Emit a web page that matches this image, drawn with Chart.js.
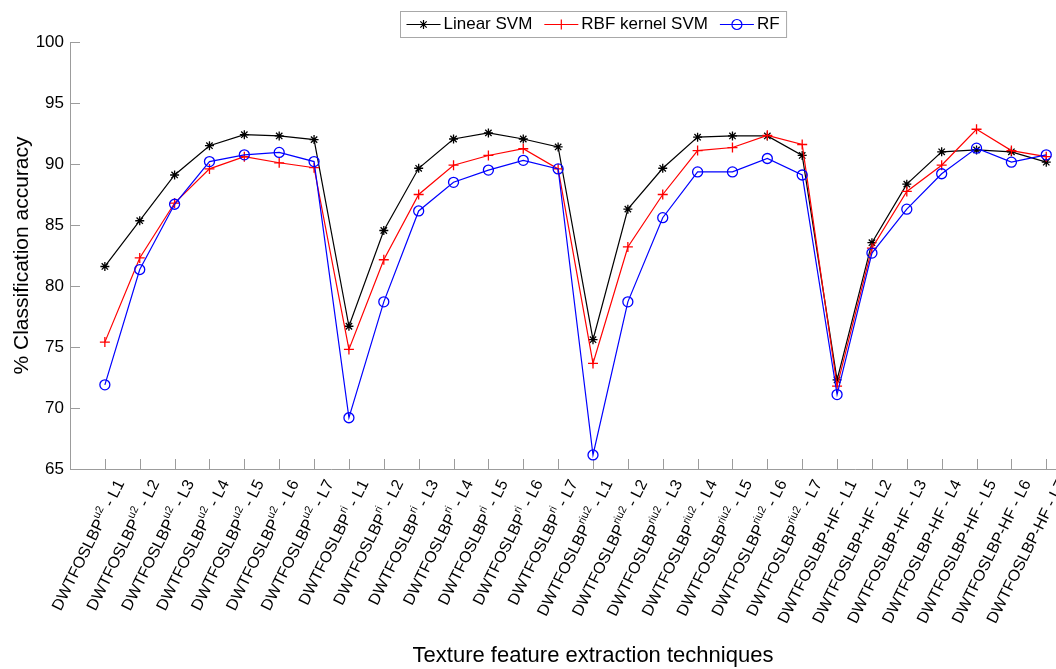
<!DOCTYPE html>
<html>
<head>
<meta charset="utf-8">
<script src="https://cdn.jsdelivr.net/npm/chart.js"></script>
<style>
  html, body { margin: 0; padding: 0; background: #fff; overflow: hidden; }
  #wrap { width: 1130px; height: 669px; }
</style>
</head>
<body>
<div id="wrap"><canvas id="chart" width="1130" height="669"></canvas></div>
<script>
// Feature extraction variants (superscripts written as ^{...})
const categories = [
  'DWTFOSLBP^{u2} - L1', 'DWTFOSLBP^{u2} - L2', 'DWTFOSLBP^{u2} - L3', 'DWTFOSLBP^{u2} - L4',
  'DWTFOSLBP^{u2} - L5', 'DWTFOSLBP^{u2} - L6', 'DWTFOSLBP^{u2} - L7',
  'DWTFOSLBP^{ri} - L1', 'DWTFOSLBP^{ri} - L2', 'DWTFOSLBP^{ri} - L3', 'DWTFOSLBP^{ri} - L4',
  'DWTFOSLBP^{ri} - L5', 'DWTFOSLBP^{ri} - L6', 'DWTFOSLBP^{ri} - L7',
  'DWTFOSLBP^{riu2} - L1', 'DWTFOSLBP^{riu2} - L2', 'DWTFOSLBP^{riu2} - L3', 'DWTFOSLBP^{riu2} - L4',
  'DWTFOSLBP^{riu2} - L5', 'DWTFOSLBP^{riu2} - L6', 'DWTFOSLBP^{riu2} - L7',
  'DWTFOSLBP-HF - L1', 'DWTFOSLBP-HF - L2', 'DWTFOSLBP-HF - L3', 'DWTFOSLBP-HF - L4',
  'DWTFOSLBP-HF - L5', 'DWTFOSLBP-HF - L6', 'DWTFOSLBP-HF - L7'
];

// % classification accuracy per classifier
const linearSVM = [81.6, 85.35, 89.1, 91.5, 92.4, 92.3, 92.0,
                   76.7, 84.55, 89.65, 92.05, 92.55, 92.05, 91.4,
                   75.6, 86.3, 89.65, 92.2, 92.3, 92.3, 90.7,
                   72.3, 83.55, 88.35, 91.0, 91.15, 91.0, 90.15];
const rbfSVM    = [75.4, 82.3, 86.8, 89.6, 90.6, 90.1, 89.7,
                   74.8, 82.15, 87.5, 89.9, 90.7, 91.25, 89.6,
                   73.65, 83.2, 87.5, 91.1, 91.35, 92.35, 91.6,
                   71.8, 83.1, 87.75, 89.9, 92.85, 91.1, 90.6];
const randomForest = [71.9, 81.35, 86.7, 90.2, 90.75, 90.95, 90.2,
                   69.2, 78.7, 86.15, 88.5, 89.5, 90.3, 89.6,
                   66.15, 78.7, 85.6, 89.35, 89.35, 90.45, 89.1,
                   71.1, 82.7, 86.3, 89.2, 91.3, 90.15, 90.75];

const yTicks = [65, 70, 75, 80, 85, 90, 95, 100];

const FONT = "'Liberation Sans', Arial, Helvetica, sans-serif";
const AXIS_GREY = '#9c9c9c';

const toPoints = arr => arr.map((v, i) => ({ x: i + 1, y: v }));

function parseLabel(s) {
  const m = s.match(/^(.*?)\^\{(.*?)\}(.*)$/);
  if (!m) return [{ t: s, sup: false }];
  return [{ t: m[1], sup: false }, { t: m[2], sup: true }, { t: m[3], sup: false }];
}

// Inward tick marks on both axes
const innerTicks = {
  id: 'innerTicks',
  beforeDatasetsDraw(chart) {
    const { ctx, chartArea, scales: { x, y } } = chart;
    ctx.save();
    ctx.strokeStyle = AXIS_GREY;
    ctx.lineWidth = 1;
    ctx.beginPath();
    categories.forEach((c, i) => {
      const px = Math.round(x.getPixelForValue(i + 1)) + 0.5;
      ctx.moveTo(px, chartArea.bottom);
      ctx.lineTo(px, chartArea.bottom - 10);
    });
    yTicks.forEach(v => {
      const py = Math.round(y.getPixelForValue(v)) + 0.5;
      ctx.moveTo(chartArea.left, py);
      ctx.lineTo(chartArea.left + 10, py);
    });
    ctx.stroke();
    ctx.restore();
  }
};

// Rotated category labels with superscripts
const rotatedLabels = {
  id: 'rotatedLabels',
  afterDraw(chart) {
    const { ctx, chartArea, scales: { x } } = chart;
    const angle = -63.5 * Math.PI / 180;
    ctx.save();
    ctx.fillStyle = '#000';
    ctx.textBaseline = 'middle';
    ctx.textAlign = 'left';
    categories.forEach((c, i) => {
      const segs = parseLabel(c);
      const widths = segs.map(s => {
        ctx.font = (s.sup ? '11px ' : '16px ') + FONT;
        return ctx.measureText(s.t).width;
      });
      const total = widths.reduce((a, b) => a + b, 0);
      ctx.save();
      ctx.translate(x.getPixelForValue(i + 1) + 16, chartArea.bottom + 12);
      ctx.rotate(angle);
      let cur = -total;
      segs.forEach((s, k) => {
        ctx.font = (s.sup ? '11px ' : '16px ') + FONT;
        ctx.fillText(s.t, cur, s.sup ? -6 : 0);
        cur += widths[k];
      });
      ctx.restore();
    });
    ctx.restore();
  }
};

// Boxed legend with line + marker samples
const boxLegend = {
  id: 'boxLegend',
  afterDraw(chart) {
    const { ctx, chartArea } = chart;
    const sets = chart.data.datasets;
    ctx.save();
    ctx.font = '17px ' + FONT;
    const lineLen = 34, gapText = 3, gapItems = 12, padL = 6, padR = 7;
    const widths = sets.map(d => ctx.measureText(d.label).width);
    const total = padL + padR + widths.reduce((a, b) => a + b, 0)
      + sets.length * (lineLen + gapText) + (sets.length - 1) * gapItems;
    const top = chartArea.top - 31, h = 26;
    const left = Math.round((chartArea.left + chartArea.right) / 2 - total / 2) + 0.5;
    ctx.fillStyle = '#fff';
    ctx.fillRect(left, top + 0.5, total, h);
    ctx.strokeStyle = '#a8a8a8';
    ctx.lineWidth = 1;
    ctx.strokeRect(left, top + 0.5, total, h);
    const cy = top + 0.5 + h / 2;
    let cx = left + padL;
    sets.forEach((d, k) => {
      ctx.strokeStyle = d.borderColor;
      ctx.lineWidth = d.borderWidth;
      ctx.beginPath();
      ctx.moveTo(cx, cy);
      ctx.lineTo(cx + lineLen, cy);
      ctx.stroke();
      ctx.fillStyle = 'rgba(0,0,0,0)';
      Chart.helpers.drawPoint(ctx, {
        pointStyle: d.pointStyle, radius: d.pointRadius,
        borderWidth: d.pointBorderWidth, rotation: 0
      }, cx + lineLen / 2, cy);
      ctx.fillStyle = '#000';
      ctx.textBaseline = 'middle';
      ctx.textAlign = 'left';
      ctx.font = '17px ' + FONT;
      ctx.fillText(d.label, cx + lineLen + gapText, cy);
      cx += lineLen + gapText + widths[k] + gapItems;
    });
    ctx.restore();
  }
};

function series(label, values, color, style, radius, order) {
  return {
    label, data: toPoints(values), order,
    borderColor: color, borderWidth: 1.2,
    pointStyle: style, pointRadius: radius, pointHoverRadius: radius,
    pointBorderColor: color, pointBackgroundColor: 'rgba(0,0,0,0)',
    pointBorderWidth: 1.3, tension: 0, fill: false, clip: false
  };
}

new Chart(document.getElementById('chart'), {
  type: 'line',
  data: {
    datasets: [
      series('Linear SVM', linearSVM, '#000000', 'star', 4.5, 3),
      series('RBF kernel SVM', rbfSVM, '#ff0000', 'cross', 5, 2),
      series('RF', randomForest, '#0000ff', 'circle', 5, 1)
    ]
  },
  options: {
    responsive: false,
    animation: false,
    events: [],
    layout: { padding: { top: 42, right: 14, bottom: 0, left: 0 } },
    plugins: { legend: { display: false }, tooltip: { enabled: false }, title: { display: false } },
    scales: {
      x: {
        type: 'linear', min: 0, max: 30,
        grid: { display: false, drawTicks: false },
        border: { display: true, color: AXIS_GREY, width: 1 },
        ticks: { display: false },
        title: {
          display: true, text: 'Texture feature extraction techniques',
          color: '#000', font: { family: FONT, size: 22 }, padding: { top: 0, bottom: 0 }
        },
        afterFit: s => { s.height = 200; }
      },
      y: {
        type: 'linear', min: 65, max: 100,
        grid: { display: false, drawTicks: false },
        border: { display: true, color: AXIS_GREY, width: 1 },
        afterBuildTicks: s => { s.ticks = yTicks.map(v => ({ value: v })); },
        ticks: { color: '#000', padding: 6, font: { family: FONT, size: 17 } },
        title: {
          display: true, text: '% Classification accuracy',
          color: '#000', font: { family: FONT, size: 21 }, padding: { top: 10, bottom: 0 }
        },
        afterFit: s => { s.width = 70; }
      }
    }
  },
  plugins: [innerTicks, rotatedLabels, boxLegend]
});
</script>
</body>
</html>
